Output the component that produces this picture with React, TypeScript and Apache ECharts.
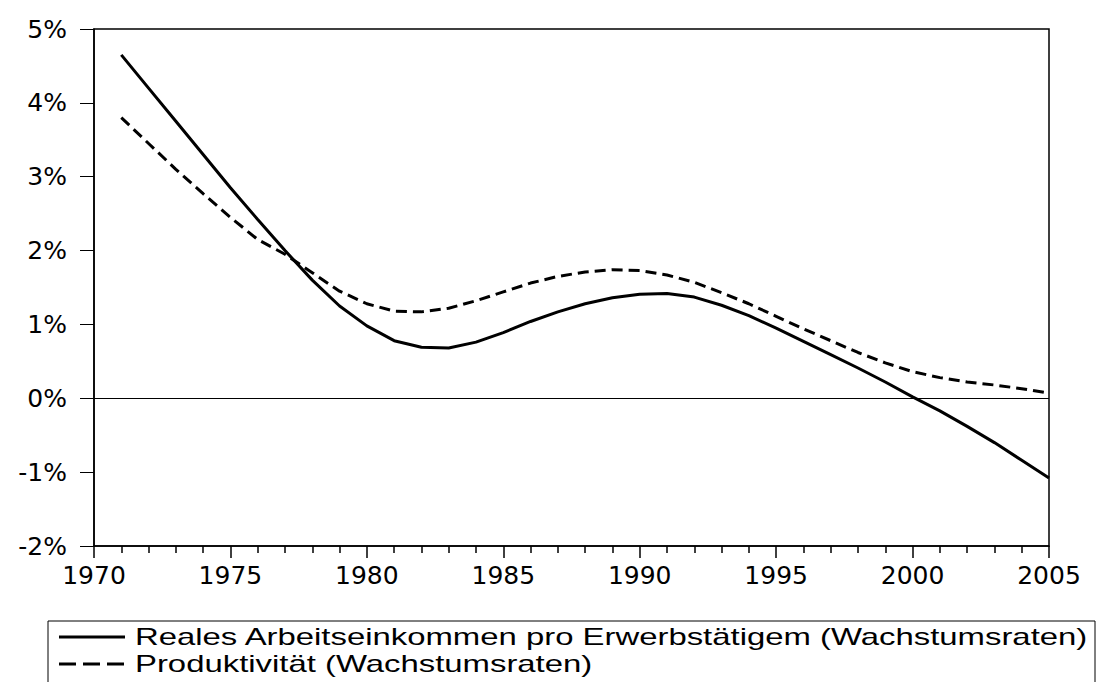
import React, { useEffect, useRef } from "react";
import * as echarts from "echarts";

const years = [
  1971, 1972, 1973, 1974, 1975, 1976, 1977, 1978, 1979, 1980,
  1981, 1982, 1983, 1984, 1985, 1986, 1987, 1988, 1989, 1990,
  1991, 1992, 1993, 1994, 1995, 1996, 1997, 1998, 1999, 2000,
  2001, 2002, 2003, 2004, 2005,
];

const realIncome = [
  4.65, 4.2, 3.75, 3.3, 2.85, 2.42, 2.0, 1.6, 1.25, 0.98,
  0.78, 0.69, 0.68, 0.76, 0.89, 1.04, 1.17, 1.28, 1.36, 1.41,
  1.42, 1.37, 1.26, 1.12, 0.95, 0.77, 0.59, 0.41, 0.22, 0.02,
  -0.17, -0.38, -0.6, -0.84, -1.08,
];

const productivity = [
  3.8, 3.45, 3.1, 2.77, 2.45, 2.15, 1.95, 1.7, 1.45, 1.28,
  1.18, 1.17, 1.22, 1.32, 1.44, 1.56, 1.65, 1.71, 1.74, 1.73,
  1.67, 1.57, 1.43, 1.28, 1.11, 0.94, 0.78, 0.62, 0.48, 0.36,
  0.28, 0.22, 0.18, 0.13, 0.07,
];

const seriesNames = [
  "Reales Arbeitseinkommen pro Erwerbstätigem (Wachstumsraten)",
  "Produktivität (Wachstumsraten)",
];

export default function App() {
  const ref = useRef<HTMLDivElement>(null);

  useEffect(() => {
    if (!ref.current) return;
    const chart = echarts.init(ref.current, null, { renderer: "svg" });
    const axisFont = {
      fontFamily: "DejaVu Sans",
      fontSize: 25,
      color: "#000",
    };
    chart.setOption({
      animation: false,
      backgroundColor: "#fff",
      grid: {
        left: 94,
        right: 48,
        top: 29,
        bottom: 136,
        show: true,
        borderColor: "#000",
        borderWidth: 1.5,
        backgroundColor: "transparent",
      },
      xAxis: {
        type: "value",
        min: 1970,
        max: 2005,
        interval: 5,
        axisLine: { show: true, onZero: false, lineStyle: { color: "#000", width: 1.5 } },
        axisTick: { show: true, length: 12, lineStyle: { color: "#000", width: 1.5 } },
        minorTick: { show: true, splitNumber: 5, length: 7, lineStyle: { color: "#000", width: 1.5 } },
        splitLine: { show: false },
        minorSplitLine: { show: false },
        axisLabel: { ...axisFont, margin: 17, formatter: (v: number) => String(v) },
      },
      yAxis: {
        type: "value",
        min: -2,
        max: 5,
        interval: 1,
        axisLine: { show: true, onZero: false, lineStyle: { color: "#000", width: 1.5 } },
        axisTick: { show: true, length: 14, lineStyle: { color: "#000", width: 1 } },
        splitLine: { show: false },
        axisLabel: { ...axisFont, margin: 27, formatter: (v: number) => `${v}%` },
      },
      series: [
        {
          name: seriesNames[0],
          type: "line",
          data: years.map((y, i) => [y, realIncome[i]]),
          showSymbol: false,
          symbol: "none",
          lineStyle: { color: "#000", width: 3 },
          markLine: {
            silent: true,
            symbol: "none",
            label: { show: false },
            lineStyle: { color: "#000", width: 1, type: "solid" },
            data: [{ yAxis: 0 }],
          },
          z: 3,
        },
        {
          name: seriesNames[1],
          type: "line",
          data: years.map((y, i) => [y, productivity[i]]),
          showSymbol: false,
          symbol: "none",
          lineStyle: { color: "#000", width: 3, type: [11, 6] },
          z: 3,
        },
      ],
      graphic: [
        {
          type: "rect",
          shape: { x: 48, y: 621, width: 1047, height: 80 },
          style: { fill: "#fff", stroke: "#000", lineWidth: 1 },
        },
        {
          type: "line",
          shape: { x1: 59, y1: 637, x2: 125, y2: 637 },
          style: { stroke: "#000", lineWidth: 3 },
        },
        {
          type: "line",
          shape: { x1: 59, y1: 664, x2: 125, y2: 664 },
          style: { stroke: "#000", lineWidth: 3, lineDash: [17, 7] },
        },
        {
          type: "text",
          x: 135,
          y: 637,
          scaleX: 1.43,
          style: {
            text: seriesNames[0],
            font: '23px "Liberation Sans"',
            fill: "#000",
            textAlign: "left",
            textVerticalAlign: "middle",
            verticalAlign: "middle",
          },
        },
        {
          type: "text",
          x: 135,
          y: 664,
          scaleX: 1.43,
          style: {
            text: seriesNames[1],
            font: '23px "Liberation Sans"',
            fill: "#000",
            textAlign: "left",
            textVerticalAlign: "middle",
            verticalAlign: "middle",
          },
        },
      ],
    });
    return () => chart.dispose();
  }, []);

  return (
    <div
      ref={ref}
      style={{ position: "fixed", left: 0, top: 0, width: 1097, height: 682 }}
    />
  );
}
